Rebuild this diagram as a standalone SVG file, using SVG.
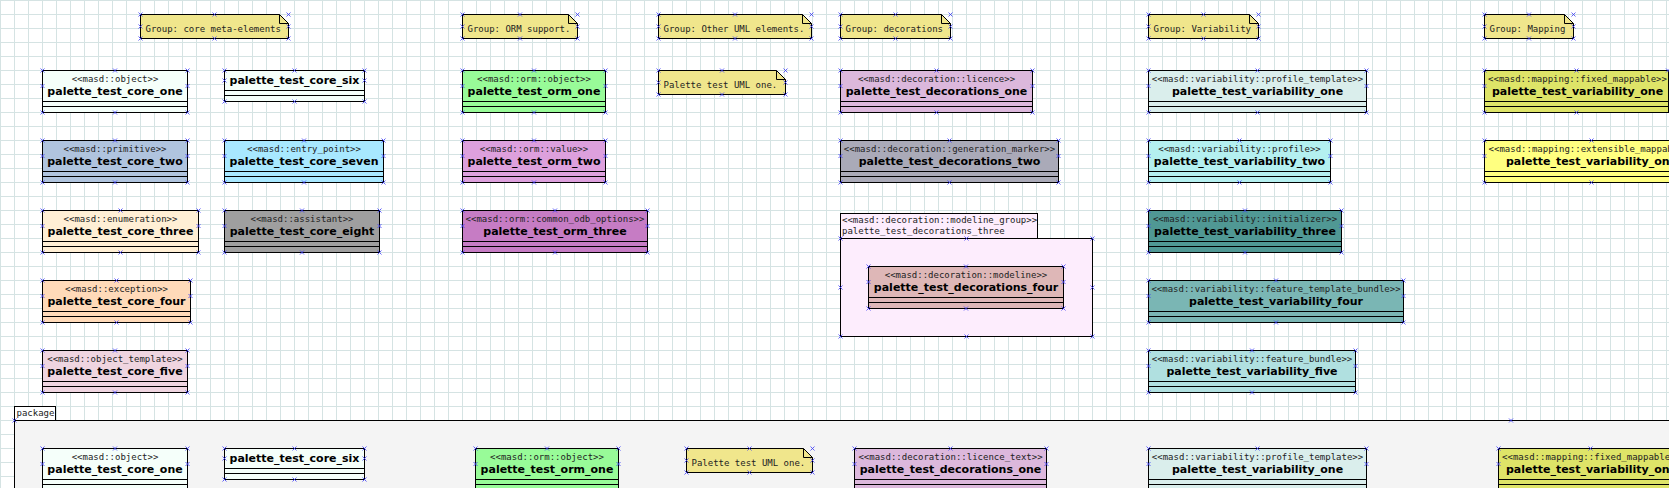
<svg xmlns="http://www.w3.org/2000/svg" xmlns:xlink="http://www.w3.org/1999/xlink" width="1669" height="488" viewBox="0 0 1669 488">
<style>
.b rect,.b path{stroke:#000;stroke-width:1}
.b path.l{fill:none}
.st{font-family:"DejaVu Sans Mono","Liberation Mono",monospace;font-size:9px;text-anchor:middle;fill:#222}
.nm{font-family:"DejaVu Sans","Liberation Sans",sans-serif;font-weight:bold;font-size:11px;text-anchor:middle;fill:#000}
.nt{font-family:"DejaVu Sans Mono","Liberation Mono",monospace;font-size:9px;fill:#222}
.note{fill:#f0e68c}
</style>
<defs>
<pattern id="grid" width="14" height="14" patternUnits="userSpaceOnUse">
<path d="M0.5 0V14M0 0.5H14" fill="none" stroke="#d5e3e3" stroke-width="1"/>
</pattern>
<path id="m" d="M-2 -2L2 2M-2 2L2 -2" fill="none" stroke="#3a3af5" stroke-width="0.8"/>
</defs>
<rect width="1669" height="488" fill="#fff"/>
<rect width="1669" height="488" fill="url(#grid)"/>

<!-- Notes -->
<g id="note_core" class="b">
<path class="note" d="M140.5 14.5H279.5L288.5 23.5V38.5H140.5Z"/><path class="l" d="M279.5 14.5V23.5H288.5"/>
<text class="nt" x="145.5" y="31.5">Group: core meta-elements</text>
<use href="#m" x="140.5" y="14.5"/><use href="#m" x="214.5" y="14.5"/><use href="#m" x="288.5" y="14.5"/><use href="#m" x="140.5" y="26.5"/><use href="#m" x="288.5" y="26.5"/><use href="#m" x="140.5" y="38.5"/><use href="#m" x="214.5" y="38.5"/><use href="#m" x="288.5" y="38.5"/>
</g>
<g id="note_orm" class="b">
<path class="note" d="M462.5 14.5H568.5L577.5 23.5V38.5H462.5Z"/><path class="l" d="M568.5 14.5V23.5H577.5"/>
<text class="nt" x="467.5" y="31.5">Group: ORM support.</text>
<use href="#m" x="462.5" y="14.5"/><use href="#m" x="520" y="14.5"/><use href="#m" x="577.5" y="14.5"/><use href="#m" x="462.5" y="26.5"/><use href="#m" x="577.5" y="26.5"/><use href="#m" x="462.5" y="38.5"/><use href="#m" x="520" y="38.5"/><use href="#m" x="577.5" y="38.5"/>
</g>
<g id="note_uml" class="b">
<path class="note" d="M658.5 14.5H802.5L811.5 23.5V38.5H658.5Z"/><path class="l" d="M802.5 14.5V23.5H811.5"/>
<text class="nt" x="663.5" y="31.5">Group: Other UML elements.</text>
<use href="#m" x="658.5" y="14.5"/><use href="#m" x="735" y="14.5"/><use href="#m" x="811.5" y="14.5"/><use href="#m" x="658.5" y="26.5"/><use href="#m" x="811.5" y="26.5"/><use href="#m" x="658.5" y="38.5"/><use href="#m" x="735" y="38.5"/><use href="#m" x="811.5" y="38.5"/>
</g>
<g id="note_dec" class="b">
<path class="note" d="M840.5 14.5H941.5L950.5 23.5V38.5H840.5Z"/><path class="l" d="M941.5 14.5V23.5H950.5"/>
<text class="nt" x="845.5" y="31.5">Group: decorations</text>
<use href="#m" x="840.5" y="14.5"/><use href="#m" x="895.5" y="14.5"/><use href="#m" x="950.5" y="14.5"/><use href="#m" x="840.5" y="26.5"/><use href="#m" x="950.5" y="26.5"/><use href="#m" x="840.5" y="38.5"/><use href="#m" x="895.5" y="38.5"/><use href="#m" x="950.5" y="38.5"/>
</g>
<g id="note_var" class="b">
<path class="note" d="M1148.5 14.5H1249.5L1258.5 23.5V38.5H1148.5Z"/><path class="l" d="M1249.5 14.5V23.5H1258.5"/>
<text class="nt" x="1153.5" y="31.5">Group: Variability</text>
<use href="#m" x="1148.5" y="14.5"/><use href="#m" x="1203.5" y="14.5"/><use href="#m" x="1258.5" y="14.5"/><use href="#m" x="1148.5" y="26.5"/><use href="#m" x="1258.5" y="26.5"/><use href="#m" x="1148.5" y="38.5"/><use href="#m" x="1203.5" y="38.5"/><use href="#m" x="1258.5" y="38.5"/>
</g>
<g id="note_map" class="b">
<path class="note" d="M1484.5 14.5H1564.5L1573.5 23.5V38.5H1484.5Z"/><path class="l" d="M1564.5 14.5V23.5H1573.5"/>
<text class="nt" x="1489.5" y="31.5">Group: Mapping</text>
<use href="#m" x="1484.5" y="14.5"/><use href="#m" x="1529" y="14.5"/><use href="#m" x="1573.5" y="14.5"/><use href="#m" x="1484.5" y="26.5"/><use href="#m" x="1573.5" y="26.5"/><use href="#m" x="1484.5" y="38.5"/><use href="#m" x="1529" y="38.5"/><use href="#m" x="1573.5" y="38.5"/>
</g>
<g id="note_uml_one" class="b">
<path class="note" d="M658.5 70.5H776.5L785.5 79.5V94.5H658.5Z"/><path class="l" d="M776.5 70.5V79.5H785.5"/>
<text class="nt" x="663.5" y="87.5">Palette test UML one.</text>
<use href="#m" x="658.5" y="70.5"/><use href="#m" x="722" y="70.5"/><use href="#m" x="785.5" y="70.5"/><use href="#m" x="658.5" y="82.5"/><use href="#m" x="785.5" y="82.5"/><use href="#m" x="658.5" y="94.5"/><use href="#m" x="722" y="94.5"/><use href="#m" x="785.5" y="94.5"/>
</g>

<!-- Core column 1 -->
<g id="core_one" class="b">
<rect x="42.5" y="70.5" width="145" height="42" fill="#f5fffa"/><path class="l" d="M42.5 101.5H187.5M42.5 106.5H187.5"/>
<text class="st" x="115" y="82">&lt;&lt;masd::object&gt;&gt;</text><text class="nm" x="115" y="94.5">palette_test_core_one</text>
<use href="#m" x="42.5" y="70.5"/><use href="#m" x="115" y="70.5"/><use href="#m" x="187.5" y="70.5"/><use href="#m" x="42.5" y="86"/><use href="#m" x="187.5" y="86"/><use href="#m" x="42.5" y="112.5"/><use href="#m" x="115" y="112.5"/><use href="#m" x="187.5" y="112.5"/>
</g>
<g id="core_two" class="b">
<rect x="42.5" y="140.5" width="145" height="42" fill="#b0c4de"/><path class="l" d="M42.5 171.5H187.5M42.5 176.5H187.5"/>
<text class="st" x="115" y="152">&lt;&lt;masd::primitive&gt;&gt;</text><text class="nm" x="115" y="164.5">palette_test_core_two</text>
<use href="#m" x="42.5" y="140.5"/><use href="#m" x="115" y="140.5"/><use href="#m" x="187.5" y="140.5"/><use href="#m" x="42.5" y="156"/><use href="#m" x="187.5" y="156"/><use href="#m" x="42.5" y="182.5"/><use href="#m" x="115" y="182.5"/><use href="#m" x="187.5" y="182.5"/>
</g>
<g id="core_three" class="b">
<rect x="42.5" y="210.5" width="156" height="42" fill="#ffefd5"/><path class="l" d="M42.5 241.5H198.5M42.5 246.5H198.5"/>
<text class="st" x="120.5" y="222">&lt;&lt;masd::enumeration&gt;&gt;</text><text class="nm" x="120.5" y="234.5">palette_test_core_three</text>
<use href="#m" x="42.5" y="210.5"/><use href="#m" x="120.5" y="210.5"/><use href="#m" x="198.5" y="210.5"/><use href="#m" x="42.5" y="226"/><use href="#m" x="198.5" y="226"/><use href="#m" x="42.5" y="252.5"/><use href="#m" x="120.5" y="252.5"/><use href="#m" x="198.5" y="252.5"/>
</g>
<g id="core_four" class="b">
<rect x="42.5" y="280.5" width="148" height="42" fill="#ffdab9"/><path class="l" d="M42.5 311.5H190.5M42.5 316.5H190.5"/>
<text class="st" x="116.5" y="292">&lt;&lt;masd::exception&gt;&gt;</text><text class="nm" x="116.5" y="304.5">palette_test_core_four</text>
<use href="#m" x="42.5" y="280.5"/><use href="#m" x="116.5" y="280.5"/><use href="#m" x="190.5" y="280.5"/><use href="#m" x="42.5" y="296"/><use href="#m" x="190.5" y="296"/><use href="#m" x="42.5" y="322.5"/><use href="#m" x="116.5" y="322.5"/><use href="#m" x="190.5" y="322.5"/>
</g>
<g id="core_five" class="b">
<rect x="42.5" y="350.5" width="145" height="42" fill="#efd5e0"/><path class="l" d="M42.5 381.5H187.5M42.5 386.5H187.5"/>
<text class="st" x="115" y="362">&lt;&lt;masd::object_template&gt;&gt;</text><text class="nm" x="115" y="374.5">palette_test_core_five</text>
<use href="#m" x="42.5" y="350.5"/><use href="#m" x="115" y="350.5"/><use href="#m" x="187.5" y="350.5"/><use href="#m" x="42.5" y="366"/><use href="#m" x="187.5" y="366"/><use href="#m" x="42.5" y="392.5"/><use href="#m" x="115" y="392.5"/><use href="#m" x="187.5" y="392.5"/>
</g>

<!-- Core column 2 -->
<g id="core_six" class="b">
<rect x="224.5" y="70.5" width="140" height="31" fill="#f5fffa"/><path class="l" d="M224.5 90.5H364.5M224.5 95.5H364.5"/>
<text class="nm" x="294.5" y="84">palette_test_core_six</text>
<use href="#m" x="224.5" y="70.5"/><use href="#m" x="294.5" y="70.5"/><use href="#m" x="364.5" y="70.5"/><use href="#m" x="224.5" y="80.5"/><use href="#m" x="364.5" y="80.5"/><use href="#m" x="224.5" y="101.5"/><use href="#m" x="294.5" y="101.5"/><use href="#m" x="364.5" y="101.5"/>
</g>
<g id="core_seven" class="b">
<rect x="224.5" y="140.5" width="159" height="42" fill="#a8e8ff"/><path class="l" d="M224.5 171.5H383.5M224.5 176.5H383.5"/>
<text class="st" x="304" y="152">&lt;&lt;masd::entry_point&gt;&gt;</text><text class="nm" x="304" y="164.5">palette_test_core_seven</text>
<use href="#m" x="224.5" y="140.5"/><use href="#m" x="304" y="140.5"/><use href="#m" x="383.5" y="140.5"/><use href="#m" x="224.5" y="156"/><use href="#m" x="383.5" y="156"/><use href="#m" x="224.5" y="182.5"/><use href="#m" x="304" y="182.5"/><use href="#m" x="383.5" y="182.5"/>
</g>
<g id="core_eight" class="b">
<rect x="224.5" y="210.5" width="155" height="42" fill="#9f9f9f"/><path class="l" d="M224.5 241.5H379.5M224.5 246.5H379.5"/>
<text class="st" x="302" y="222">&lt;&lt;masd::assistant&gt;&gt;</text><text class="nm" x="302" y="234.5">palette_test_core_eight</text>
<use href="#m" x="224.5" y="210.5"/><use href="#m" x="302" y="210.5"/><use href="#m" x="379.5" y="210.5"/><use href="#m" x="224.5" y="226"/><use href="#m" x="379.5" y="226"/><use href="#m" x="224.5" y="252.5"/><use href="#m" x="302" y="252.5"/><use href="#m" x="379.5" y="252.5"/>
</g>

<!-- ORM -->
<g id="orm_one" class="b">
<rect x="462.5" y="70.5" width="143" height="42" fill="#98fb98"/><path class="l" d="M462.5 101.5H605.5M462.5 106.5H605.5"/>
<text class="st" x="534" y="82">&lt;&lt;masd::orm::object&gt;&gt;</text><text class="nm" x="534" y="94.5">palette_test_orm_one</text>
<use href="#m" x="462.5" y="70.5"/><use href="#m" x="534" y="70.5"/><use href="#m" x="605.5" y="70.5"/><use href="#m" x="462.5" y="86"/><use href="#m" x="605.5" y="86"/><use href="#m" x="462.5" y="112.5"/><use href="#m" x="534" y="112.5"/><use href="#m" x="605.5" y="112.5"/>
</g>
<g id="orm_two" class="b">
<rect x="462.5" y="140.5" width="143" height="42" fill="#dda0dd"/><path class="l" d="M462.5 171.5H605.5M462.5 176.5H605.5"/>
<text class="st" x="534" y="152">&lt;&lt;masd::orm::value&gt;&gt;</text><text class="nm" x="534" y="164.5">palette_test_orm_two</text>
<use href="#m" x="462.5" y="140.5"/><use href="#m" x="534" y="140.5"/><use href="#m" x="605.5" y="140.5"/><use href="#m" x="462.5" y="156"/><use href="#m" x="605.5" y="156"/><use href="#m" x="462.5" y="182.5"/><use href="#m" x="534" y="182.5"/><use href="#m" x="605.5" y="182.5"/>
</g>
<g id="orm_three" class="b">
<rect x="462.5" y="210.5" width="185" height="42" fill="#c67cc4"/><path class="l" d="M462.5 241.5H647.5M462.5 246.5H647.5"/>
<text class="st" x="555" y="222">&lt;&lt;masd::orm::common_odb_options&gt;&gt;</text><text class="nm" x="555" y="234.5">palette_test_orm_three</text>
<use href="#m" x="462.5" y="210.5"/><use href="#m" x="555" y="210.5"/><use href="#m" x="647.5" y="210.5"/><use href="#m" x="462.5" y="226"/><use href="#m" x="647.5" y="226"/><use href="#m" x="462.5" y="252.5"/><use href="#m" x="555" y="252.5"/><use href="#m" x="647.5" y="252.5"/>
</g>

<!-- Decorations -->
<g id="decorations_one" class="b">
<rect x="840.5" y="70.5" width="192" height="42" fill="#dcb8dc"/><path class="l" d="M840.5 101.5H1032.5M840.5 106.5H1032.5"/>
<text class="st" x="936.5" y="82">&lt;&lt;masd::decoration::licence&gt;&gt;</text><text class="nm" x="936.5" y="94.5">palette_test_decorations_one</text>
<use href="#m" x="840.5" y="70.5"/><use href="#m" x="936.5" y="70.5"/><use href="#m" x="1032.5" y="70.5"/><use href="#m" x="840.5" y="86"/><use href="#m" x="1032.5" y="86"/><use href="#m" x="840.5" y="112.5"/><use href="#m" x="936.5" y="112.5"/><use href="#m" x="1032.5" y="112.5"/>
</g>
<g id="decorations_two" class="b">
<rect x="840.5" y="140.5" width="218" height="42" fill="#aaaab8"/><path class="l" d="M840.5 171.5H1058.5M840.5 176.5H1058.5"/>
<text class="st" x="949.5" y="152">&lt;&lt;masd::decoration::generation_marker&gt;&gt;</text><text class="nm" x="949.5" y="164.5">palette_test_decorations_two</text>
<use href="#m" x="840.5" y="140.5"/><use href="#m" x="949.5" y="140.5"/><use href="#m" x="1058.5" y="140.5"/><use href="#m" x="840.5" y="156"/><use href="#m" x="1058.5" y="156"/><use href="#m" x="840.5" y="182.5"/><use href="#m" x="949.5" y="182.5"/><use href="#m" x="1058.5" y="182.5"/>
</g>
<g id="decorations_three" class="b">
<rect x="840.5" y="213.5" width="197" height="25" fill="#fdedfd"/>
<rect x="840.5" y="238.5" width="252" height="98" fill="#fdedfd"/>
<text class="nt" x="842" y="222.5">&lt;&lt;masd::decoration::modeline_group&gt;&gt;</text>
<text class="nt" x="842" y="233.5">palette_test_decorations_three</text>
<use href="#m" x="840.5" y="238.5"/><use href="#m" x="966.5" y="238.5"/><use href="#m" x="1092.5" y="238.5"/><use href="#m" x="840.5" y="287.5"/><use href="#m" x="1092.5" y="287.5"/><use href="#m" x="840.5" y="336.5"/><use href="#m" x="966.5" y="336.5"/><use href="#m" x="1092.5" y="336.5"/>
</g>
<g id="decorations_four" class="b">
<rect x="868.5" y="266.5" width="195" height="42" fill="#deb7b7"/><path class="l" d="M868.5 297.5H1063.5M868.5 302.5H1063.5"/>
<text class="st" x="966" y="278">&lt;&lt;masd::decoration::modeline&gt;&gt;</text><text class="nm" x="966" y="290.5">palette_test_decorations_four</text>
<use href="#m" x="868.5" y="266.5"/><use href="#m" x="966" y="266.5"/><use href="#m" x="1063.5" y="266.5"/><use href="#m" x="868.5" y="282"/><use href="#m" x="1063.5" y="282"/><use href="#m" x="868.5" y="308.5"/><use href="#m" x="966" y="308.5"/><use href="#m" x="1063.5" y="308.5"/>
</g>

<!-- Variability -->
<g id="variability_one" class="b">
<rect x="1148.5" y="70.5" width="218" height="42" fill="#daeeec"/><path class="l" d="M1148.5 101.5H1366.5M1148.5 106.5H1366.5"/>
<text class="st" x="1257.5" y="82">&lt;&lt;masd::variability::profile_template&gt;&gt;</text><text class="nm" x="1257.5" y="94.5">palette_test_variability_one</text>
<use href="#m" x="1148.5" y="70.5"/><use href="#m" x="1257.5" y="70.5"/><use href="#m" x="1366.5" y="70.5"/><use href="#m" x="1148.5" y="86"/><use href="#m" x="1366.5" y="86"/><use href="#m" x="1148.5" y="112.5"/><use href="#m" x="1257.5" y="112.5"/><use href="#m" x="1366.5" y="112.5"/>
</g>
<g id="variability_two" class="b">
<rect x="1148.5" y="140.5" width="182" height="42" fill="#b4f0f0"/><path class="l" d="M1148.5 171.5H1330.5M1148.5 176.5H1330.5"/>
<text class="st" x="1239.5" y="152">&lt;&lt;masd::variability::profile&gt;&gt;</text><text class="nm" x="1239.5" y="164.5">palette_test_variability_two</text>
<use href="#m" x="1148.5" y="140.5"/><use href="#m" x="1239.5" y="140.5"/><use href="#m" x="1330.5" y="140.5"/><use href="#m" x="1148.5" y="156"/><use href="#m" x="1330.5" y="156"/><use href="#m" x="1148.5" y="182.5"/><use href="#m" x="1239.5" y="182.5"/><use href="#m" x="1330.5" y="182.5"/>
</g>
<g id="variability_three" class="b">
<rect x="1148.5" y="210.5" width="193" height="42" fill="#509894"/><path class="l" d="M1148.5 241.5H1341.5M1148.5 246.5H1341.5"/>
<text class="st" x="1245" y="222">&lt;&lt;masd::variability::initializer&gt;&gt;</text><text class="nm" x="1245" y="234.5">palette_test_variability_three</text>
<use href="#m" x="1148.5" y="210.5"/><use href="#m" x="1245" y="210.5"/><use href="#m" x="1341.5" y="210.5"/><use href="#m" x="1148.5" y="226"/><use href="#m" x="1341.5" y="226"/><use href="#m" x="1148.5" y="252.5"/><use href="#m" x="1245" y="252.5"/><use href="#m" x="1341.5" y="252.5"/>
</g>
<g id="variability_four" class="b">
<rect x="1148.5" y="280.5" width="255" height="42" fill="#7ab6b4"/><path class="l" d="M1148.5 311.5H1403.5M1148.5 316.5H1403.5"/>
<text class="st" x="1276" y="292">&lt;&lt;masd::variability::feature_template_bundle&gt;&gt;</text><text class="nm" x="1276" y="304.5">palette_test_variability_four</text>
<use href="#m" x="1148.5" y="280.5"/><use href="#m" x="1276" y="280.5"/><use href="#m" x="1403.5" y="280.5"/><use href="#m" x="1148.5" y="296"/><use href="#m" x="1403.5" y="296"/><use href="#m" x="1148.5" y="322.5"/><use href="#m" x="1276" y="322.5"/><use href="#m" x="1403.5" y="322.5"/>
</g>
<g id="variability_five" class="b">
<rect x="1148.5" y="350.5" width="207" height="42" fill="#b0e0e0"/><path class="l" d="M1148.5 381.5H1355.5M1148.5 386.5H1355.5"/>
<text class="st" x="1252" y="362">&lt;&lt;masd::variability::feature_bundle&gt;&gt;</text><text class="nm" x="1252" y="374.5">palette_test_variability_five</text>
<use href="#m" x="1148.5" y="350.5"/><use href="#m" x="1252" y="350.5"/><use href="#m" x="1355.5" y="350.5"/><use href="#m" x="1148.5" y="366"/><use href="#m" x="1355.5" y="366"/><use href="#m" x="1148.5" y="392.5"/><use href="#m" x="1252" y="392.5"/><use href="#m" x="1355.5" y="392.5"/>
</g>

<!-- Mapping -->
<g id="mapping_fixed" class="b">
<rect x="1484.5" y="70.5" width="184" height="42" fill="#dee468"/><path class="l" d="M1484.5 101.5H1668.5M1484.5 106.5H1668.5"/>
<text class="st" x="1577.5" y="82">&lt;&lt;masd::mapping::fixed_mappable&gt;&gt;</text><text class="nm" x="1577.5" y="94.5">palette_test_variability_one</text>
<use href="#m" x="1484.5" y="70.5"/><use href="#m" x="1576.5" y="70.5"/><use href="#m" x="1668" y="70.5"/><use href="#m" x="1484.5" y="86"/><use href="#m" x="1484.5" y="112.5"/><use href="#m" x="1576.5" y="112.5"/>
</g>
<g id="mapping_extensible" class="b">
<rect x="1484.5" y="140.5" width="214" height="42" fill="#ffff80"/><path class="l" d="M1484.5 171.5H1698.5M1484.5 176.5H1698.5"/>
<text class="st" x="1591.5" y="152">&lt;&lt;masd::mapping::extensible_mappable&gt;&gt;</text><text class="nm" x="1591.5" y="164.5">palette_test_variability_one</text>
<use href="#m" x="1484.5" y="140.5"/><use href="#m" x="1591.5" y="140.5"/><use href="#m" x="1484.5" y="156"/><use href="#m" x="1484.5" y="182.5"/><use href="#m" x="1591.5" y="182.5"/>
</g>

<!-- Package -->
<g id="package" class="b">
<rect x="14.5" y="406.5" width="41" height="14" fill="#fff"/>
<rect x="14.5" y="420.5" width="3000" height="200" fill="#f4f4f4"/>
<text class="nt" x="16.5" y="416">package</text>
<use href="#m" x="14.5" y="420.5"/><use href="#m" x="1511" y="420.5"/>
</g>
<g id="pkg_core_one" class="b">
<rect x="42.5" y="448.5" width="145" height="42" fill="#f5fffa"/><path class="l" d="M42.5 479.5H187.5M42.5 484.5H187.5"/>
<text class="st" x="115" y="460">&lt;&lt;masd::object&gt;&gt;</text><text class="nm" x="115" y="472.5">palette_test_core_one</text>
<use href="#m" x="42.5" y="448.5"/><use href="#m" x="115" y="448.5"/><use href="#m" x="187.5" y="448.5"/><use href="#m" x="42.5" y="464"/><use href="#m" x="187.5" y="464"/>
</g>
<g id="pkg_core_six" class="b">
<rect x="224.5" y="448.5" width="140" height="31" fill="#f5fffa"/><path class="l" d="M224.5 468.5H364.5M224.5 473.5H364.5"/>
<text class="nm" x="294.5" y="462">palette_test_core_six</text>
<use href="#m" x="224.5" y="448.5"/><use href="#m" x="294.5" y="448.5"/><use href="#m" x="364.5" y="448.5"/><use href="#m" x="224.5" y="458.5"/><use href="#m" x="364.5" y="458.5"/><use href="#m" x="224.5" y="479.5"/><use href="#m" x="294.5" y="479.5"/><use href="#m" x="364.5" y="479.5"/>
</g>
<g id="pkg_orm_one" class="b">
<rect x="475.5" y="448.5" width="143" height="42" fill="#98fb98"/><path class="l" d="M475.5 479.5H618.5M475.5 484.5H618.5"/>
<text class="st" x="547" y="460">&lt;&lt;masd::orm::object&gt;&gt;</text><text class="nm" x="547" y="472.5">palette_test_orm_one</text>
<use href="#m" x="475.5" y="448.5"/><use href="#m" x="547" y="448.5"/><use href="#m" x="618.5" y="448.5"/><use href="#m" x="475.5" y="464"/><use href="#m" x="618.5" y="464"/>
</g>
<g id="pkg_note_uml_one" class="b">
<path class="note" d="M686.5 448.5H803.5L812.5 457.5V472.5H686.5Z"/><path class="l" d="M803.5 448.5V457.5H812.5"/>
<text class="nt" x="691.5" y="465.5">Palette test UML one.</text>
<use href="#m" x="686.5" y="448.5"/><use href="#m" x="749.5" y="448.5"/><use href="#m" x="812.5" y="448.5"/><use href="#m" x="686.5" y="460.5"/><use href="#m" x="812.5" y="460.5"/><use href="#m" x="686.5" y="472.5"/><use href="#m" x="749.5" y="472.5"/><use href="#m" x="812.5" y="472.5"/>
</g>
<g id="pkg_decorations_one" class="b">
<rect x="854.5" y="448.5" width="192" height="42" fill="#dcb8dc"/><path class="l" d="M854.5 479.5H1046.5M854.5 484.5H1046.5"/>
<text class="st" x="950.5" y="460">&lt;&lt;masd::decoration::licence_text&gt;&gt;</text><text class="nm" x="950.5" y="472.5">palette_test_decorations_one</text>
<use href="#m" x="854.5" y="448.5"/><use href="#m" x="950.5" y="448.5"/><use href="#m" x="1046.5" y="448.5"/><use href="#m" x="854.5" y="464"/><use href="#m" x="1046.5" y="464"/>
</g>
<g id="pkg_variability_one" class="b">
<rect x="1148.5" y="448.5" width="218" height="42" fill="#daeeec"/><path class="l" d="M1148.5 479.5H1366.5M1148.5 484.5H1366.5"/>
<text class="st" x="1257.5" y="460">&lt;&lt;masd::variability::profile_template&gt;&gt;</text><text class="nm" x="1257.5" y="472.5">palette_test_variability_one</text>
<use href="#m" x="1148.5" y="448.5"/><use href="#m" x="1257.5" y="448.5"/><use href="#m" x="1366.5" y="448.5"/><use href="#m" x="1148.5" y="464"/><use href="#m" x="1366.5" y="464"/>
</g>
<g id="pkg_mapping_fixed" class="b">
<rect x="1498.5" y="448.5" width="184" height="42" fill="#dee468"/><path class="l" d="M1498.5 479.5H1682.5M1498.5 484.5H1682.5"/>
<text class="st" x="1591.5" y="460">&lt;&lt;masd::mapping::fixed_mappable&gt;&gt;</text><text class="nm" x="1591.5" y="472.5">palette_test_variability_one</text>
<use href="#m" x="1498.5" y="448.5"/><use href="#m" x="1590.5" y="448.5"/><use href="#m" x="1498.5" y="464"/>
</g>

<g id="connectors"></g>
</svg>
